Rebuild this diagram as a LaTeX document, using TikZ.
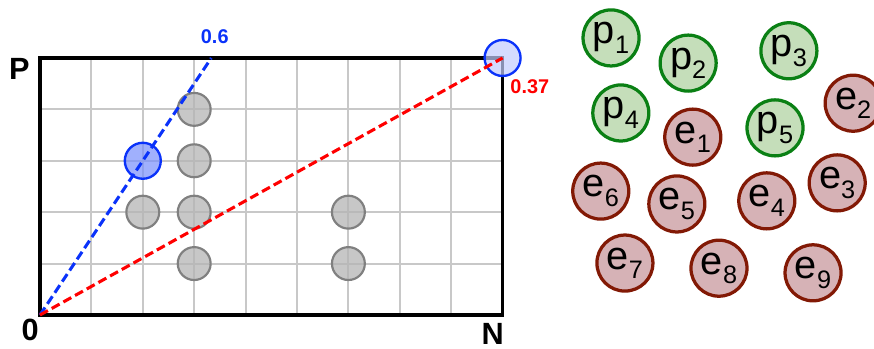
\documentclass[tikz,border=0pt]{standalone}
\usepackage{fontspec}
\setmainfont{Liberation Sans}
\usetikzlibrary{calc}
\definecolor{gridC}{RGB}{200,200,200}
\definecolor{holeC}{RGB}{180,180,180}
\definecolor{holeD}{RGB}{128,128,128}
\definecolor{blu}{RGB}{10,50,250}
\definecolor{protC}{RGB}{197,222,186}
\definecolor{protD}{RGB}{10,128,20}
\definecolor{elecC}{RGB}{214,178,182}
\definecolor{elecD}{RGB}{130,25,5}
\tikzset{
  gridline/.style={draw=gridC, line width=1.1pt},
  frame/.style={draw=black, line width=1.7pt},
  hole/.style={circle, minimum size=0.64cm, inner sep=0pt, line width=1.2pt,
    draw=holeD, fill=holeC, fill opacity=0.75},
  pick/.style={circle, minimum size=0.70cm, inner sep=0pt, line width=1.3pt,
    draw=blu, fill=blu!55, fill opacity=0.7},
  corner/.style={pick, fill=blu!25},
  ray/.style={dash pattern=on 5pt off 2.4pt, line width=1.7pt},
  big/.style={font=\fontsize{17}{17}\selectfont\bfseries},
  val/.style={font=\fontsize{11}{11}\selectfont\bfseries},
  part/.style={circle, minimum size=1.09cm, inner sep=0pt, line width=1.8pt,
    font=\fontsize{22}{22}\selectfont},
  prot/.style={part, draw=protD, fill=protC},
  elec/.style={part, draw=elecD, fill=elecC},
}
\newcommand{\idx}[1]{\raisebox{-0.45ex}{\fontsize{14}{14}\selectfont #1}}

\begin{document}
\begin{tikzpicture}
  \useasboundingbox (-0.778,-0.661) rectangle (16.226,6.128);
  % grid
  \draw[gridline] (0,0) grid (9,5);
  \foreach \n/\p in {h1/{(3,4)},h2/{(3,3)},h3/{(2,2)},h4/{(3,2)},h5/{(3,1)},h6/{(6,2)},h7/{(6,1)}} {
    \node[hole] (\n) at \p {};
  }
  \draw[frame] (0,0) rectangle (9,5);
  \coordinate (O) at (0,0);
  \coordinate (T) at (10/3,5);
  \node[pick] (b) at (2,3) {};
  \node[corner] (c) at (9,5) {};
  \draw[ray, blu] (O) -- (T);
  \draw[ray, red] (O) -- (c.center);
  % labels
  \node[big] (lP) at (-0.40,4.79) {P};
  \node[big] (l0) at (-0.19,-0.29) {0};
  \node[big] (lN) at (8.81,-0.37) {N};
  \node[val, blu] (v1) at (3.40,5.41) {0.6};
  \node[val, red] (v2) at (9.53,4.44) {0.37};
  % particles
  \foreach \n/\p in {1/{(11.11,5.39)},2/{(12.61,4.90)},3/{(14.57,5.14)},4/{(11.30,3.93)},5/{(14.30,3.64)}} {
    \node[prot] (p\n) at \p {p\idx{\n}};
  }
  \foreach \n/\p in {1/{(12.70,3.46)},2/{(15.82,4.12)},3/{(15.51,2.57)},4/{(14.14,2.22)},5/{(12.39,2.16)},
                     6/{(10.91,2.41)},7/{(11.38,1.01)},8/{(13.21,0.91)},9/{(15.04,0.82)}} {
    \node[elec] (e\n) at \p {e\idx{\n}};
  }
\end{tikzpicture}
\end{document}
